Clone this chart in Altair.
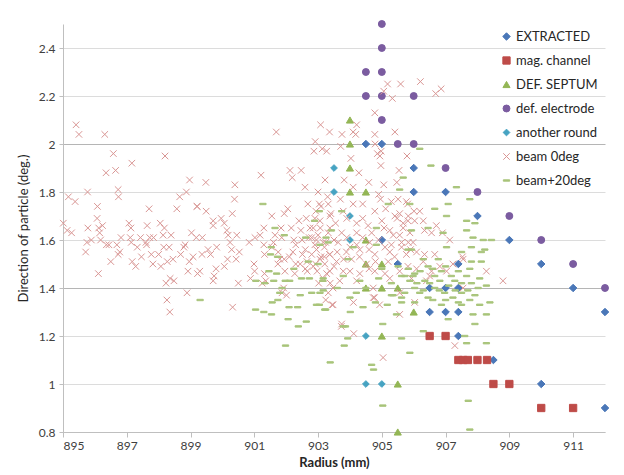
import altair as alt
import pandas as pd

series_names = ["EXTRACTED", "mag. channel", "DEF. SEPTUM", "def. electrode",
                "another round", "beam 0deg", "beam+20deg"]

x_ticks = [895, 897, 899, 901, 903, 905, 907, 909, 911]
y_ticks = [0.8, 1.0, 1.2, 1.4, 1.6, 1.8, 2.0, 2.2, 2.4]

extracted_r = [904.5, 905, 906, 906, 907, 908, 909, 910, 911, 912, 905, 905.5, 907.4,
               906.5, 907, 907.4, 906.5, 907, 907.4, 907.4, 908.5, 910, 912]
extracted_d = [2.0, 2.0, 1.9, 1.8, 1.8, 1.7, 1.6, 1.5, 1.4, 1.3, 1.6, 1.5, 1.5,
               1.4, 1.4, 1.4, 1.3, 1.3, 1.3, 1.2, 1.1, 1.0, 0.9]

mag_r = [906.5, 907, 907.4, 907.55, 907.7, 908, 908.3, 908.5, 909, 910, 911]
mag_d = [1.2, 1.2, 1.1, 1.1, 1.1, 1.1, 1.1, 1.0, 1.0, 0.9, 0.9]

septum_r = [904, 904, 904, 904, 904.5, 904.5, 904.5, 905, 904.5, 905, 905.5, 906, 905, 905.5, 905.5]
septum_d = [2.1, 2.0, 1.9, 1.8, 1.8, 1.6, 1.5, 1.5, 1.4, 1.4, 1.4, 1.3, 1.2, 1.0, 0.8]

electrode_r = [905, 905, 904.5, 905, 904.5, 905, 906, 905, 905.5, 906, 907, 908, 909, 910, 911, 912]
electrode_d = [2.5, 2.4, 2.3, 2.3, 2.2, 2.2, 2.2, 2.1, 2.0, 2.0, 1.9, 1.8, 1.7, 1.6, 1.5, 1.4]

another_r = [903.5, 903.5, 904, 904, 904.5, 904.5, 905]
another_d = [1.9, 1.8, 1.7, 1.6, 1.2, 1.0, 1.0]

beam0_r = [
    895.41, 895.50, 896.31, 896.58, 897.16, 898.20, 896.35, 896.65, 898.97, 895.77,
    896.73, 896.74, 895.17, 895.38, 898.66, 898.87, 896.08, 897.70, 898.57, 899.21,
    896.07, 895.01, 895.13, 895.27, 895.78, 896.12, 896.24, 896.15, 897.07, 897.13,
    897.64, 898.05, 898.18, 898.39, 899.03, 896.18, 895.89, 895.75, 895.71, 896.36,
    896.44, 896.69, 896.82, 897.11, 897.14, 897.33, 897.43, 897.60, 897.62, 897.72,
    897.84, 898.14, 898.16, 898.33, 898.79, 898.83, 899.18, 899.37, 896.73, 896.78,
    896.50, 897.17, 897.28, 897.46, 897.77, 897.82, 898.00, 898.07, 898.27, 898.45,
    898.69, 898.96, 899.08, 899.36, 896.11, 898.23, 898.36, 898.48, 898.92, 899.22,
    899.29, 898.89, 898.26, 898.35,
    903.08, 903.36, 901.69, 902.91, 902.87, 903.13, 903.27, 902.12, 902.19, 902.47,
    901.21, 902.59, 899.48, 900.39, 903.30, 900.38, 899.20, 899.49, 900.31, 902.05,
    901.94, 902.68, 903.04, 903.09, 902.93, 903.37, 901.55, 899.71, 899.96, 899.71,
    900.06, 901.30, 902.63, 900.14, 900.18, 900.45, 901.02, 901.18, 901.84, 902.16,
    902.46, 902.75, 903.07, 903.37, 901.65, 901.86, 902.72, 900.24, 900.84, 901.55,
    902.24, 902.50, 902.95, 903.24, 899.82, 899.55, 899.63, 900.29, 900.53, 900.16,
    900.43, 901.32, 901.75, 901.94, 901.74, 902.21, 902.51, 902.80, 903.09, 903.36,
    902.65, 902.44, 902.92, 903.21, 899.80, 900.06, 899.74, 900.99, 901.01, 900.88,
    901.32, 899.71, 900.50, 901.36, 901.25, 901.96, 902.27, 902.66, 902.97, 903.27,
    901.92, 903.02, 903.38, 900.32, 903.32, 903.44, 901.87,
    902.01, 903.24, 904.11, 904.77, 904.93, 903.73, 904.12, 905.04,
    905.18, 905.59, 906.21, 905.06, 905.33, 906.69, 906.86, 904.78, 904.21, 903.75,
    904.10, 904.18, 904.78, 905.41, 903.71, 904.79, 904.86, 904.98,
    904.03, 904.94, 904.97, 905.79, 905.54, 904.28, 903.82, 904.59, 903.22, 904.10,
    905.47, 905.06, 904.96, 905.77, 903.32, 904.10, 903.79, 904.78, 905.12, 905.41,
    905.48, 905.82, 906.01, 903.06, 903.55, 904.21, 904.57, 905.07, 902.85, 902.80,
    903.32, 903.74, 904.21, 904.68, 905.25, 905.67, 905.88, 905.36, 903.16, 903.63,
    904.21, 904.62, 905.30, 905.62, 905.98, 902.95, 903.37, 903.89, 904.31, 904.78,
    905.25, 905.77, 903.06, 903.58, 904.05, 904.52, 905.20, 905.82, 902.85, 903.37,
    903.79, 904.31, 904.78, 905.56, 906.09, 903.16, 903.68, 904.21, 905.25, 905.93,
    903.47, 904.73, 904.73, 903.47, 903.74, 905.56,
    905.51, 905.81, 906.19, 905.56, 905.83, 905.67, 906.03, 906.30, 906.71, 906.34,
    906.56, 905.56, 907.13, 905.83, 905.62, 906.09, 906.34, 906.66, 907.55, 907.23,
    906.30, 906.82, 906.56, 906.40, 907.03, 906.03, 905.56, 907.29, 907.55, 906.50,
    906.90, 907.53, 908.28, 908.80,
    903.00, 903.20, 903.50, 903.90, 904.40, 904.90, 905.10, 904.60, 904.00, 903.60,
    903.20, 903.80, 904.30, 904.80, 905.40, 905.00, 904.40, 903.90, 903.40, 902.90,
    902.40, 902.30, 902.60, 902.10, 901.60, 901.30, 902.90, 903.50, 904.00, 904.60,
    905.10, 902.60, 902.30, 901.80, 904.40, 904.90, 905.30, 903.70, 903.00, 905.90,
]
beam0_d = [
    2.08, 2.04, 2.04, 1.96, 1.92, 1.95, 1.88, 1.89, 1.85, 1.80,
    1.81, 1.78, 1.78, 1.76, 1.78, 1.80, 1.74, 1.73, 1.73, 1.74,
    1.69, 1.67, 1.64, 1.63, 1.65, 1.65, 1.66, 1.63, 1.67, 1.65,
    1.66, 1.67, 1.65, 1.62, 1.63, 1.60, 1.60, 1.59, 1.55, 1.58,
    1.58, 1.58, 1.61, 1.61, 1.59, 1.57, 1.61, 1.59, 1.58, 1.61,
    1.61, 1.62, 1.57, 1.57, 1.57, 1.58, 1.61, 1.61, 1.54, 1.55,
    1.51, 1.51, 1.49, 1.53, 1.54, 1.50, 1.54, 1.49, 1.51, 1.52,
    1.54, 1.51, 1.53, 1.54, 1.46, 1.42, 1.44, 1.43, 1.47, 1.46,
    1.47, 1.38, 1.35, 1.30,
    2.08, 2.05, 2.05, 2.01, 1.97, 1.98, 1.97, 1.89, 1.86, 1.89,
    1.87, 1.82, 1.84, 1.83, 1.78, 1.77, 1.74, 1.72, 1.71, 1.73,
    1.71, 1.75, 1.75, 1.74, 1.72, 1.70, 1.70, 1.68, 1.69, 1.66,
    1.67, 1.65, 1.69, 1.64, 1.62, 1.62, 1.61, 1.62, 1.65, 1.65,
    1.64, 1.65, 1.65, 1.65, 1.62, 1.61, 1.61, 1.59, 1.59, 1.57,
    1.60, 1.60, 1.60, 1.59, 1.57, 1.56, 1.54, 1.56, 1.55, 1.52,
    1.52, 1.54, 1.55, 1.52, 1.50, 1.55, 1.54, 1.54, 1.53, 1.54,
    1.51, 1.50, 1.50, 1.50, 1.48, 1.49, 1.45, 1.50, 1.47, 1.44,
    1.46, 1.43, 1.42, 1.43, 1.42, 1.47, 1.46, 1.47, 1.47, 1.46,
    1.40, 1.42, 1.42, 1.32, 1.38, 1.33, 1.38,
    1.37, 1.35, 1.34, 1.36, 1.33, 1.24, 1.21, 1.11,
    2.25, 2.25, 2.26, 2.22, 2.19, 2.21, 2.23, 2.13, 2.08, 2.04,
    2.05, 2.04, 2.04, 2.05, 1.99, 2.00, 1.96, 1.97,
    1.94, 1.95, 1.91, 1.95, 1.89, 1.88, 1.85, 1.84, 1.85, 1.82,
    1.84, 1.83, 1.77, 1.76, 1.75, 1.75, 1.72, 1.72, 1.73, 1.70,
    1.69, 1.68, 1.72, 1.68, 1.67, 1.67, 1.66, 1.65, 1.65, 1.61,
    1.63, 1.63, 1.63, 1.63, 1.64, 1.65, 1.63, 1.62, 1.59, 1.59,
    1.58, 1.59, 1.58, 1.59, 1.59, 1.56, 1.54, 1.55, 1.56, 1.54,
    1.55, 1.54, 1.52, 1.51, 1.52, 1.50, 1.51, 1.49, 1.49, 1.47,
    1.47, 1.46, 1.47, 1.47, 1.48, 1.44, 1.43, 1.43, 1.44, 1.44,
    1.40, 1.40, 1.36, 1.33, 1.25, 1.38,
    1.77, 1.75, 1.72, 1.71, 1.70, 1.67, 1.68, 1.68, 1.66, 1.64,
    1.63, 1.62, 1.60, 1.59, 1.57, 1.55, 1.54, 1.54, 1.52, 1.50,
    1.51, 1.49, 1.47, 1.43, 1.47, 1.34, 1.29, 1.16, 1.40, 1.45,
    1.63, 1.53, 1.47, 1.43,
    1.62, 1.57, 1.60, 1.61, 1.61, 1.60, 1.57, 1.56, 1.57, 1.55,
    1.53, 1.52, 1.53, 1.51, 1.53, 1.68, 1.69, 1.69, 1.71, 1.69,
    1.68, 1.58, 1.56, 1.53, 1.59, 1.58, 1.58, 1.49, 1.47, 1.48,
    1.46, 1.48, 1.50, 1.52, 1.75, 1.79, 1.76, 1.77, 1.80, 1.56,
]

beam20_r = [
    901.27, 901.65, 901.94, 902.61, 903.04, 902.89, 901.53, 903.25, 903.32, 901.51,
    901.73, 902.24, 902.69, 903.00, 901.46, 901.70, 901.05, 901.33, 901.61, 901.97,
    902.11, 902.48, 902.73, 903.15, 901.87, 902.44, 902.80, 903.16, 899.30, 901.74,
    901.56, 902.09, 902.36, 903.04, 901.04, 901.30, 901.54, 902.06, 902.63, 902.38,
    901.80, 901.98, 903.24, 904.01, 903.86, 904.00, 904.41, 904.80, 905.17, 905.35,
    905.46, 905.03, 903.93, 903.82, 903.38, 904.68, 904.74, 905.03,
    905.67, 905.56, 905.20, 905.88, 903.74, 903.42, 904.83, 905.93, 903.06, 904.10,
    904.83, 905.82, 903.94, 905.00, 905.51, 903.16, 903.79, 904.31, 905.72, 905.98,
    903.06, 905.30, 905.62, 902.95, 903.21, 903.79,
    907.34, 907.08, 906.66, 907.03, 907.66, 907.92, 907.66, 906.45, 906.92, 907.86,
    907.03, 907.50, 907.81, 905.93, 908.12, 906.30, 906.77, 907.81, 906.45, 908.12,
    905.83, 906.87, 907.76, 905.62, 906.03, 906.66, 907.18, 907.66, 908.07, 905.88,
    906.35, 906.82, 907.29, 907.81, 906.03, 906.66, 908.02, 905.72, 906.19, 906.97,
    907.50, 907.92, 905.62, 906.45, 907.23, 907.76, 906.03, 906.87, 907.50, 908.07,
    907.86, 907.08, 907.92, 906.30, 905.62, 905.88,
    907.76, 908.18, 908.44, 908.23, 908.28, 908.39, 908.28, 907.60, 907.66, 908.28,
    907.71, 907.76, 906.19, 906.54,
    906.20, 906.60, 907.00, 907.40, 906.10, 906.50, 907.10, 907.50, 906.30, 906.80,
    907.30, 907.70, 906.60, 907.00, 907.40, 905.30, 904.90, 904.50, 904.20, 903.60,
]
beam20_d = [
    1.75, 1.65, 1.62, 1.61, 1.72, 1.68, 1.57, 1.61, 1.59, 1.54,
    1.53, 1.48, 1.51, 1.50, 1.47, 1.46, 1.43, 1.42, 1.43, 1.43,
    1.43, 1.44, 1.44, 1.43, 1.40, 1.37, 1.38, 1.39, 1.35, 1.35,
    1.34, 1.32, 1.32, 1.33, 1.31, 1.30, 1.29, 1.27, 1.26, 1.24,
    1.38, 1.16, 1.31, 1.30, 1.24, 1.36, 1.32, 1.34, 1.33, 1.37,
    1.29, 1.25, 1.19, 1.16, 1.09, 1.08, 1.06, 0.91,
    1.86, 1.81, 1.75, 1.75, 1.72, 1.64, 1.65, 1.64, 1.58, 1.57,
    1.58, 1.56, 1.52, 1.48, 1.49, 1.44, 1.45, 1.43, 1.45, 1.45,
    1.38, 1.37, 1.34, 1.33, 1.31, 1.24,
    1.82, 1.75, 1.73, 1.70, 1.68, 1.67, 1.64, 1.65, 1.63, 1.61,
    1.57, 1.55, 1.57, 1.56, 1.55, 1.52, 1.52, 1.51, 1.49, 1.51,
    1.48, 1.47, 1.48, 1.45, 1.46, 1.45, 1.45, 1.45, 1.44, 1.43,
    1.43, 1.43, 1.43, 1.42, 1.40, 1.40, 1.40, 1.38, 1.38, 1.38,
    1.38, 1.37, 1.36, 1.36, 1.36, 1.35, 1.34, 1.33, 1.33, 1.33,
    1.29, 1.27, 1.25, 1.22, 1.19, 1.13,
    1.77, 1.60, 1.60, 1.56, 1.41, 1.34, 1.29, 1.20, 1.17, 1.17,
    0.93, 0.81, 1.98, 1.91,
    1.47, 1.48, 1.49, 1.47, 1.42, 1.42, 1.41, 1.42, 1.39, 1.39,
    1.39, 1.39, 1.35, 1.35, 1.34, 1.42, 1.44, 1.40, 1.38, 1.40,
]

colors = ["#4A77B8", "#BE4B48", "#93B655", "#7B5CA0", "#46A3C2", "#D99694", "#A8C47A"]
shapes = ["diamond", "square", "triangle-up", "circle", "diamond",
          "M-1,-1L1,1M-1,1L1,-1", "M-1,-0.22L1,-0.22L1,0.22L-1,0.22Z"]
sizes = [56, 40, 56, 52, 56, 18, 34]

groups = [(extracted_r, extracted_d), (mag_r, mag_d), (septum_r, septum_d),
          (electrode_r, electrode_d), (another_r, another_d),
          (beam0_r, beam0_d), (beam20_r, beam20_d)]
rows = []
for name, (rs, ds) in zip(series_names, groups):
    for r, d in zip(rs, ds):
        rows.append({"series": name, "radius": r, "direction": d})
df = pd.DataFrame(rows)

font = "Lato"
leg = alt.Legend(title=None, orient="none", legendX=437, legendY=6,
                 labelFontSize=13, labelFont=font, labelColor="#262626",
                 rowPadding=10, labelOffset=3, symbolStrokeWidth=1,
                 symbolOpacity=1)

grid_cond = alt.condition(
    "abs(datum.value - 2) < 0.01 || abs(datum.value - 1.4) < 0.01",
    alt.value("#b5b5b5"),
    alt.value("#dcdcdc"),
)

chart = alt.Chart(df).mark_point(filled=True, opacity=1, strokeWidth=1).encode(
    x=alt.X("radius:Q",
            scale=alt.Scale(domain=[895, 912], nice=False, zero=False),
            axis=alt.Axis(values=x_ticks, format="d", grid=False,
                          domainColor="#bfbfbf", tickColor="#bfbfbf", tickSize=5,
                          labelFontSize=12, labelFont=font, labelColor="#404040",
                          labelPadding=3, title="Radius (mm)", titleFont=font,
                          titleFontSize=13, titleFontWeight="bold",
                          titleColor="#262626", titlePadding=5)),
    y=alt.Y("direction:Q",
            scale=alt.Scale(domain=[0.8, 2.5], nice=False, zero=False),
            axis=alt.Axis(values=y_ticks, format="~g", grid=True, gridColor=grid_cond,
                          domainColor="#bfbfbf", tickColor="#bfbfbf", tickSize=4,
                          labelFontSize=12, labelFont=font, labelColor="#404040",
                          labelPadding=4, title="Direction of particle (deg.)",
                          titleFont=font, titleFontSize=13, titleFontWeight="normal",
                          titleColor="#262626", titlePadding=8)),
    fill=alt.Fill("series:N", scale=alt.Scale(domain=series_names, range=colors), legend=leg),
    stroke=alt.Stroke("series:N", scale=alt.Scale(domain=series_names, range=colors), legend=leg),
    shape=alt.Shape("series:N", scale=alt.Scale(domain=series_names, range=shapes), legend=leg),
    size=alt.Size("series:N", scale=alt.Scale(domain=series_names, range=sizes), legend=leg),
).properties(
    width=542, height=408,
    padding={"left": 55, "top": 16, "right": 11, "bottom": 40},
    autosize="none",
).configure_view(strokeWidth=0)

chart.save("out.html", embed_options={"renderer": "svg", "actions": False})
